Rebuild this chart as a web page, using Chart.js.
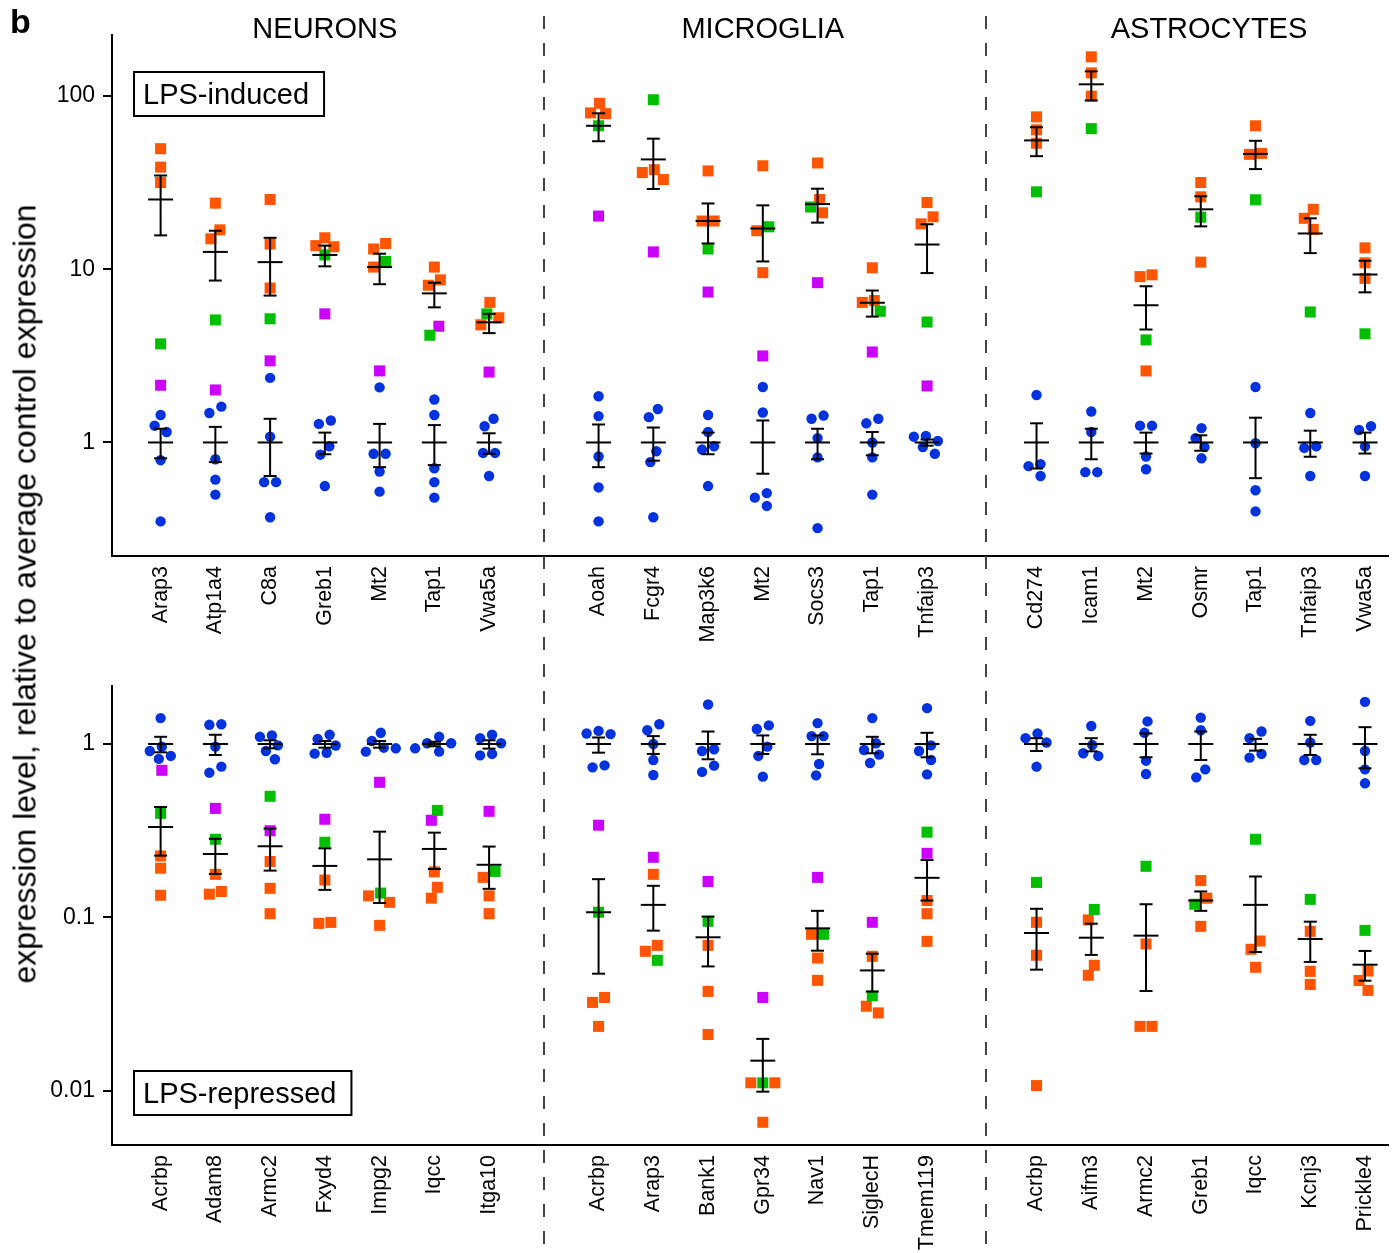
<!DOCTYPE html>
<html>
<head>
<meta charset="utf-8">
<script src="https://cdn.jsdelivr.net/npm/chart.js@4.4.1/dist/chart.umd.min.js"></script>
<style>
  body { margin: 0; background: #fff; }
  #wrap { position: relative; width: 1395px; height: 1253px; font-family: "Liberation Sans", Arial, sans-serif; }
  #induced { position: absolute; left: 0; top: 0; }
  #repressed { position: absolute; left: 0; top: 660px; }
  #ytitle {
    position: absolute; left: 25px; top: 594px;
    transform: translate(-50%, -50%) rotate(-90deg);
    white-space: nowrap; font-size: 32px; color: #000;
  }
</style>
</head>
<body>
<div id="wrap">
  <canvas id="induced" width="1395" height="660"></canvas>
  <canvas id="repressed" width="1395" height="593"></canvas>
  <div id="ytitle">expression level, relative to average control expression</div>
</div>
<script>
// Fold change vs. average control, per gene and cell type

const cellTypes = ["NEURONS", "MICROGLIA", "ASTROCYTES"];

const inducedGenes = [
  "Arap3", "Atp1a4", "C8a", "Greb1", "Mt2", "Tap1", "Vwa5a",
  "Aoah", "Fcgr4", "Map3k6", "Mt2", "Socs3", "Tap1", "Tnfaip3",
  "Cd274", "Icam1", "Mt2", "Osmr", "Tap1", "Tnfaip3", "Vwa5a",
];
const repressedGenes = [
  "Acrbp", "Adam8", "Armc2", "Fxyd4", "Impg2", "Iqcc", "Itga10",
  "Acrbp", "Arap3", "Bank1", "Gpr34", "Nav1", "SiglecH", "Tmem119",
  "Acrbp", "Aifm3", "Armc2", "Greb1", "Iqcc", "Kcnj3", "Prickle4",
];
const inducedTicks = [1, 10, 100];
const repressedTicks = [0.01, 0.1, 1];

// ---- LPS-induced panel ----
const inducedControl = [
  [1.44, 1.25, 1.15, 0.79, 0.35], [1.61, 1.48, 0.80, 0.61, 0.50], [2.36, 1.08, 0.59, 0.59, 0.37],
  [1.34, 1.28, 0.95, 0.85, 0.56], [2.08, 0.86, 0.86, 0.68, 0.52], [1.77, 1.44, 0.71, 0.59, 0.48],
  [1.37, 1.24, 0.87, 0.87, 0.64],
  [1.85, 1.42, 0.83, 0.55, 0.35], [1.56, 1.40, 0.89, 0.77, 0.37], [1.44, 1.15, 0.95, 0.91, 0.56],
  [2.09, 1.49, 0.51, 0.48, 0.43], [1.43, 1.37, 1.06, 0.82, 0.32], [1.37, 1.29, 1.00, 0.82, 0.50],
  [1.09, 1.08, 1.02, 0.94, 0.86],
  [1.88, 0.75, 0.73, 0.64], [1.51, 1.15, 0.674, 0.674], [1.25, 1.25, 0.83, 0.70],
  [1.21, 1.06, 0.94, 0.81], [2.09, 0.99, 0.53, 0.40], [1.48, 0.95, 0.93, 0.64],
  [1.24, 1.18, 0.95, 0.64],
];
const inducedControlLo = [0.81, 0.77, 0.64, 0.855, 0.72, 0.74, 0.86, 0.72, 0.785, 0.855, 0.66, 0.80, 0.843, 0.958, 0.707, 0.80, 0.863, 0.896, 0.622, 0.827, 0.863];
const inducedControlHi = [1.20, 1.23, 1.37, 1.14, 1.28, 1.26, 1.13, 1.27, 1.22, 1.14, 1.34, 1.20, 1.15, 1.04, 1.29, 1.20, 1.14, 1.10, 1.39, 1.17, 1.14];
const inducedOrange = [
  [49.7, 38.9, 31.7], [24.1, 16.9, 15.0], [25.3, 14.0, 7.79], [15.2, 13.7, 13.5],
  [14.1, 13.1, 10.3], [10.3, 8.69, 8.09], [6.44, 5.25, 4.78],
  [90.9, 80.0, 79.2], [37.6, 36.2, 33.0], [37.0, 19.0, 19.0], [39.6, 16.7, 9.56],
  [41.1, 25.3, 21.2], [10.2, 6.60, 6.44], [24.3, 20.1, 18.3],
  [75.9, 63.9, 53.4], [168.6, 136.2, 100], [9.29, 9.07, 2.59], [31.7, 26.2, 11.0],
  [67.4, 46.7, 46.1], [22.2, 19.7, 17.0], [13.3, 10.9, 8.86],
];
const inducedGreen = [
  [3.71], [5.10], [5.18], [12.1], [11.1], [4.16], [5.53],
  [67.4], [95.3], [13.1], [17.6], [22.9], [5.72], [4.96],
  [28.0], [64.9], [3.91], [20.0], [25.2], [5.67], [4.24],
];
const inducedMagenta = [
  [2.14], [2.01], [2.96], [5.53], [2.59], [4.69], [2.55],
  [20.3], [12.6], [7.39], [3.16], [8.37], [3.33], [2.12],
  [], [], [], [], [], [], [],
];
const inducedMean = [25.3, 12.6, 11.0, 12.1, 10.3, 7.26, 4.94, 67.4, 43.1, 19.0, 17.2, 23.8, 6.41, 13.9, 55.5, 117, 6.20, 22.2, 46.4, 16.1, 9.33];
const inducedLo = [15.7, 8.61, 7.05, 10.4, 8.2, 6.03, 4.28, 54.9, 29.1, 14.1, 11.1, 18.6, 5.33, 9.51, 45.0, 94.4, 4.49, 17.7, 37.9, 12.4, 7.36];
const inducedHi = [34.8, 16.7, 15.2, 13.7, 12.3, 8.37, 5.53, 79.6, 56.8, 24.0, 23.4, 29.2, 7.54, 18.2, 66.1, 139, 7.98, 26.4, 55.2, 19.7, 11.2];

// ---- LPS-repressed panel ----
const repressedControl = [
  [1.41, 0.965, 0.911, 0.853, 0.82], [1.30, 1.29, 0.965, 0.74, 0.683], [1.12, 1.10, 0.982, 0.911, 0.816],
  [1.13, 1.07, 0.98, 0.89, 0.88], [1.16, 1.04, 0.952, 0.944, 0.903], [1.10, 1.01, 1.01, 0.944, 0.903],
  [1.13, 1.08, 1.01, 0.876, 0.86],
  [1.19, 1.15, 1.14, 0.753, 0.733], [1.30, 1.20, 1.00, 0.808, 0.662], [1.69, 0.932, 0.911, 0.75, 0.69],
  [1.28, 1.22, 0.965, 0.853, 0.648], [1.32, 1.11, 1.11, 0.767, 0.659], [1.41, 1.01, 0.923, 0.868, 0.777],
  [1.61, 0.982, 0.911, 0.808, 0.668],
  [1.15, 1.08, 1.02, 0.74], [1.27, 0.987, 0.884, 0.853], [1.35, 1.16, 0.801, 0.671],
  [1.42, 1.20, 0.714, 0.642], [1.18, 1.08, 0.876, 0.834], [1.36, 1.02, 0.808, 0.808],
  [1.75, 0.911, 0.714, 0.593],
];
const repressedControlLo = [0.895, 0.864, 0.944, 0.952, 0.952, 0.97, 0.94, 0.891, 0.876, 0.816, 0.876, 0.872, 0.884, 0.838, 0.911, 0.907, 0.838, 0.808, 0.915, 0.864, 0.724];
const repressedControlHi = [1.10, 1.13, 1.05, 1.04, 1.04, 1.03, 1.05, 1.09, 1.11, 1.18, 1.12, 1.12, 1.10, 1.16, 1.08, 1.08, 1.15, 1.18, 1.07, 1.13, 1.25];
const repressedOrange = [
  [0.226, 0.192, 0.134], [0.177, 0.141, 0.136], [0.21, 0.147, 0.105], [0.164, 0.0935, 0.0923],
  [0.133, 0.122, 0.0899], [0.183, 0.149, 0.129], [0.170, 0.133, 0.105],
  [0.0345, 0.0323, 0.0235], [0.177, 0.0689, 0.0637], [0.0689, 0.0374, 0.0211], [0.0111, 0.0111, 0.00657],
  [0.0798, 0.0582, 0.0433], [0.0596, 0.0307, 0.0281], [0.125, 0.105, 0.0727],
  [0.0936, 0.0604, 0.0107], [0.0966, 0.0529, 0.0463], [0.0702, 0.0235, 0.0235], [0.163, 0.129, 0.0887],
  [0.073, 0.0654, 0.0515], [0.083, 0.0488, 0.041], [0.049, 0.0432, 0.0379],
];
const repressedGreen = [
  [0.398], [0.282], [0.499], [0.271], [0.138], [0.414], [0.184],
  [0.107], [0.0565], [0.0948], [0.0111], [0.0798], [0.0352], [0.31],
  [0.159], [0.111], [0.197], [0.119], [0.282], [0.127], [0.0841],
];
const repressedMagenta = [
  [0.705], [0.425], [0.316], [0.368], [0.601], [0.363], [0.409],
  [0.34], [0.222], [0.161], [0.0345], [0.17], [0.0936], [0.234],
  [], [], [], [], [], [], [],
];
const repressedMean = [0.332, 0.232, 0.257, 0.198, 0.216, 0.248, 0.201, 0.107, 0.118, 0.0767, 0.0149, 0.0864, 0.0494, 0.169, 0.0812, 0.0763, 0.0784, 0.125, 0.118, 0.075, 0.0533];
const repressedLo = [0.227, 0.178, 0.186, 0.144, 0.121, 0.19, 0.146, 0.0473, 0.0838, 0.0521, 0.00987, 0.0642, 0.0373, 0.125, 0.0499, 0.0607, 0.0376, 0.109, 0.0631, 0.0553, 0.0431];
const repressedHi = [0.433, 0.284, 0.325, 0.25, 0.312, 0.308, 0.256, 0.166, 0.152, 0.101, 0.0199, 0.109, 0.0617, 0.214, 0.112, 0.0919, 0.119, 0.141, 0.172, 0.0944, 0.064];

// ---- look ----
const FONT = "'Liberation Sans', Arial, Helvetica, sans-serif";
Chart.defaults.font.family = FONT;
Chart.defaults.color = "#000";

const COLORS = { control: "#0033dd", orange: "#ff5500", green: "#00bf00", magenta: "#cc00ff" };
const X_MIN = -0.888, X_MAX = 22.42;
const DIVIDERS = [7, 15.08];
const HEADER_SLOTS = [3, 11, 19.15];
const SLOT_PX = 54.75;       // pixels per category slot
const PX_PER_DECADE = 173;   // pixels per log10 unit on both panels
const SWARM_STEP = 3;        // sideways search step, px
const SWARM_GAP = 11.5;      // minimum centre distance between points, px
const DASH = [13, 14];

function slotOf(i) {
  return i + Math.floor(i / 7);
}

// simple beeswarm: push points sideways when they would overlap
function swarm(groups) {
  const pts = [];
  for (const key of Object.keys(groups)) {
    groups[key].forEach((v) => pts.push({ key, v, y: Math.log10(v) * PX_PER_DECADE, dx: 0 }));
  }
  const order = pts.slice().sort((a, b) => b.y - a.y);
  const placed = [];
  for (const p of order) {
    for (let k = 0; k < 20; k++) {
      const dx = (k % 2 ? -1 : 1) * Math.ceil(k / 2) * SWARM_STEP;
      const hit = placed.some((q) => Math.hypot(q.y - p.y, q.dx - dx) < SWARM_GAP);
      if (!hit) {
        p.dx = dx;
        break;
      }
    }
    placed.push(p);
  }
  // centre each cluster of touching points on the category
  const parent = pts.map((_, i) => i);
  const find = (i) => (parent[i] === i ? i : (parent[i] = find(parent[i])));
  for (let i = 0; i < pts.length; i++) {
    for (let j = i + 1; j < pts.length; j++) {
      if (Math.abs(pts[i].y - pts[j].y) < SWARM_GAP) parent[find(i)] = find(j);
    }
  }
  const sums = {};
  pts.forEach((p, i) => {
    const r = find(i);
    sums[r] = sums[r] || { s: 0, n: 0 };
    sums[r].s += p.dx;
    sums[r].n += 1;
  });
  pts.forEach((p, i) => {
    const r = sums[find(i)];
    p.dx -= r.s / r.n;
  });
  return pts;
}

function buildDatasets(d) {
  const pts = { control: [], magenta: [], green: [], orange: [] };
  const stems = [], caps = [], centres = [];
  d.genes.forEach((g, i) => {
    const x = slotOf(i);
    swarm({ control: d.control[i], magenta: d.magenta[i], green: d.green[i], orange: d.orange[i] }).forEach((p) => {
      pts[p.key].push({ x: x + p.dx / SLOT_PX, y: p.v });
    });
    [[1, d.controlLo[i], d.controlHi[i]], [d.mean[i], d.lo[i], d.hi[i]]].forEach(([m, l, h]) => {
      stems.push({ x, y: l }, { x, y: h }, { x, y: null });
      caps.push({ x, y: l }, { x, y: h });
      centres.push({ x, y: m });
    });
  });
  const dots = (key, style, r, order) => ({
    data: pts[key],
    pointStyle: style,
    pointRadius: r,
    backgroundColor: COLORS[key],
    borderWidth: 0,
    order,
  });
  return [
    { data: stems, showLine: true, spanGaps: false, borderColor: "#000", borderWidth: 2, pointRadius: 0, order: 0 },
    { data: caps, pointStyle: "line", pointRadius: 6.5, borderColor: "#000", borderWidth: 2, order: 0 },
    { data: centres, pointStyle: "line", pointRadius: 12.5, borderColor: "#000", borderWidth: 2, order: 0 },
    dots("green", "rect", 7.8, 1),
    dots("magenta", "rect", 7.8, 2),
    dots("orange", "rect", 7.8, 3),
    dots("control", "circle", 5.2, 4),
  ];
}

const decorPlugin = {
  id: "decor",
  afterDraw(chart, args, opts) {
    const { ctx, chartArea, scales } = chart;
    ctx.save();
    // dashed dividers between cell types
    ctx.strokeStyle = "#444";
    ctx.lineWidth = 2;
    ctx.setLineDash(DASH);
    ctx.lineDashOffset = opts.dashOffset;
    DIVIDERS.forEach((v) => {
      const px = Math.round(scales.x.getPixelForValue(v));
      ctx.beginPath();
      ctx.moveTo(px, opts.dashTop);
      ctx.lineTo(px, chart.height);
      ctx.stroke();
    });
    ctx.setLineDash([]);
    // cell type headers and panel letter
    if (opts.headers) {
      ctx.fillStyle = "#000";
      ctx.font = "29px " + FONT;
      ctx.textAlign = "center";
      ctx.textBaseline = "alphabetic";
      cellTypes.forEach((t, k) => ctx.fillText(t, scales.x.getPixelForValue(HEADER_SLOTS[k]), 38));
      ctx.font = "bold 34px " + FONT;
      ctx.textAlign = "left";
      ctx.fillText("b", 10, 33);
    }
    // boxed panel label
    ctx.font = "29px " + FONT;
    const w = ctx.measureText(opts.label).width;
    const bx = chartArea.left + 22;
    const by = opts.boxTop;
    ctx.lineWidth = 2;
    ctx.strokeStyle = "#000";
    ctx.strokeRect(bx, by, w + 24, 44);
    ctx.fillStyle = "#000";
    ctx.textAlign = "left";
    ctx.textBaseline = "alphabetic";
    ctx.fillText(opts.label, bx + 9, by + 32);
    ctx.restore();
  },
};

function makeChart(id, d, cfg) {
  return new Chart(document.getElementById(id), {
    type: "scatter",
    data: { datasets: buildDatasets(d) },
    plugins: [decorPlugin],
    options: {
      responsive: false,
      animation: false,
      events: [],
      layout: { autoPadding: false, padding: { top: cfg.padTop, right: 7, left: 0, bottom: 0 } },
      plugins: {
        legend: { display: false },
        tooltip: { enabled: false },
        decor: cfg.decor,
      },
      scales: {
        x: {
          type: "linear",
          min: X_MIN,
          max: X_MAX,
          afterBuildTicks: (s) => {
            s.ticks = d.genes.map((_, i) => ({ value: slotOf(i) }));
          },
          afterFit: (s) => {
            s.height = cfg.xHeight;
            s.paddingLeft = 0;
            s.paddingRight = 0;
          },
          ticks: {
            autoSkip: false,
            minRotation: 90,
            maxRotation: 90,
            padding: 10,
            font: { size: 21.5 },
            callback: (v) => {
              const i = d.genes.findIndex((_, k) => slotOf(k) === v);
              return i >= 0 ? d.genes[i] : "";
            },
          },
          grid: { display: false, drawTicks: false },
          border: { display: true, color: "#000", width: 2 },
        },
        y: {
          type: "logarithmic",
          min: cfg.yMin,
          max: cfg.yMax,
          afterBuildTicks: (s) => {
            s.ticks = d.ticks.map((v) => ({ value: v }));
          },
          afterFit: (s) => {
            s.width = 112;
            s.paddingTop = 0;
            s.paddingBottom = 0;
          },
          ticks: {
            padding: 8,
            font: { size: 23 },
            callback: (v) => String(v),
          },
          grid: { drawOnChartArea: false, drawTicks: true, tickLength: 9, color: "#000", lineWidth: 2 },
          border: { display: true, color: "#000", width: 2 },
        },
      },
    },
  });
}

makeChart(
  "induced",
  {
    genes: inducedGenes, ticks: inducedTicks,
    control: inducedControl, controlLo: inducedControlLo, controlHi: inducedControlHi,
    orange: inducedOrange, green: inducedGreen, magenta: inducedMagenta,
    mean: inducedMean, lo: inducedLo, hi: inducedHi,
  },
  {
    padTop: 35, xHeight: 104, yMin: 0.221, yMax: 225.4,
    decor: { headers: true, label: "LPS-induced", boxTop: 72, dashTop: 16, dashOffset: 0 },
  }
);

makeChart(
  "repressed",
  {
    genes: repressedGenes, ticks: repressedTicks,
    control: repressedControl, controlLo: repressedControlLo, controlHi: repressedControlHi,
    orange: repressedOrange, green: repressedGreen, magenta: repressedMagenta,
    mean: repressedMean, lo: repressedLo, hi: repressedHi,
  },
  {
    padTop: 26, xHeight: 108, yMin: 0.00486, yMax: 2.16,
    decor: { headers: false, label: "LPS-repressed", boxTop: 411, dashTop: 0, dashOffset: (660 - 16) % 27 },
  }
);
</script>
</body>
</html>
